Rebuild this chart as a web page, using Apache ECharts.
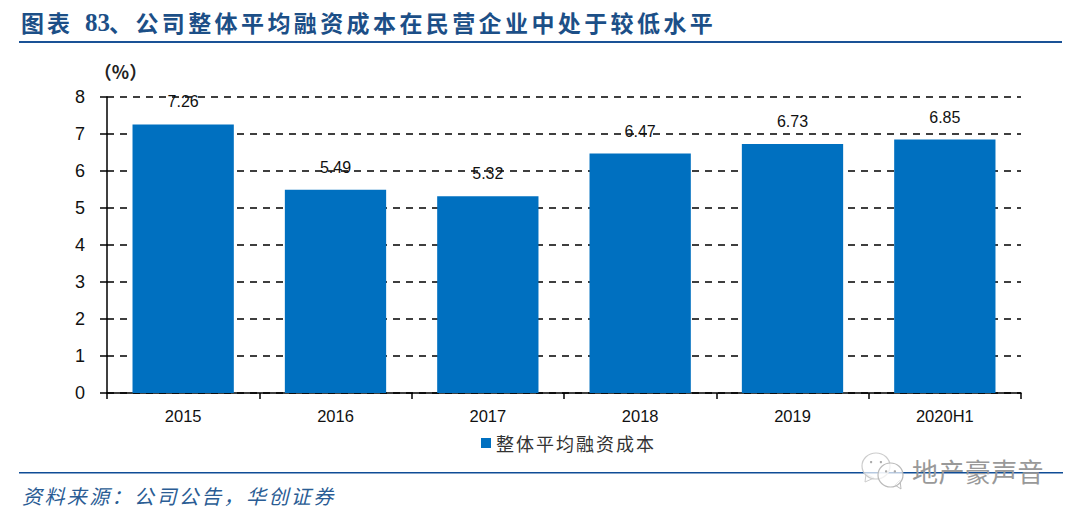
<!DOCTYPE html>
<html><head><meta charset="utf-8">
<style>html,body{margin:0;padding:0;background:#fff}#c{width:1080px;height:519px}</style>
<script src="https://cdn.jsdelivr.net/npm/echarts@6/dist/echarts.min.js"></script>
</head><body><div id="c"></div>
<script>
const categories = ['2015','2016','2017','2018','2019','2020H1'];
const values = [7.26,5.49,5.32,6.47,6.73,6.85];
const seriesName = '整体平均融资成本';
const unit = '（%）';
const titleHead = '图表';
const titleNum = '83';
const titleTail = '、公司整体平均融资成本在民营企业中处于较低水平';
const source = '资料来源：公司公告，华创证券';
const watermark = '地产豪声音';
const yTicks = {min:0,max:8,interval:1};

const CJK = '"Noto Sans CJK SC"';
const NAVY = '#1c4f87';
const chart = echarts.init(document.getElementById('c'),null,{renderer:'svg',width:1080,height:519});
const bubble = (cx,cy,rx,ry,tail,c)=>[
  {type:'polygon',shape:{points:tail},style:{fill:'rgba(255,255,255,0.7)',stroke:c,lineWidth:1}},
  {type:'ellipse',shape:{cx,cy,rx,ry},style:{fill:'rgba(255,255,255,0.7)',stroke:c,lineWidth:1.2}},
  {type:'circle',shape:{cx:cx-rx*0.35,cy:cy-ry*0.3,r:1.2},style:{fill:'#aaa'}},
  {type:'circle',shape:{cx:cx+rx*0.35,cy:cy-ry*0.3,r:1.2},style:{fill:'#aaa'}}
];
chart.setOption({
  animation:false,
  backgroundColor:'#fff',
  grid:{left:107,right:59,top:97,bottom:126},
  legend:{left:476,top:429,itemWidth:10,itemHeight:10,itemGap:6,icon:'rect',
    textStyle:{fontFamily:CJK,fontSize:18,color:'#333'}},
  xAxis:{type:'category',data:categories,
    axisLine:{lineStyle:{color:'#000',width:1.5}},
    axisTick:{show:true,alignWithLabel:false,length:6,lineStyle:{color:'#000',width:1.5}},
    axisLabel:{fontFamily:'"Liberation Sans"',fontSize:16.5,color:'#111',margin:14}},
  yAxis:{type:'value',...yTicks,name:unit,nameLocation:'end',nameGap:17,
    nameTextStyle:{fontFamily:CJK,fontWeight:'bold',fontSize:18,color:'#222',align:'center',padding:[0,0,0,27]},
    axisLine:{show:true,lineStyle:{color:'#000',width:1.5}},
    axisTick:{show:true,length:7,lineStyle:{color:'#000',width:1.5}},
    axisLabel:{fontFamily:'"Liberation Sans"',fontSize:18,color:'#111',margin:22,padding:[0,0,3,0]},
    splitLine:{show:true,lineStyle:{color:'#000',width:1.5,type:[7,6]}}},
  series:[{name:seriesName,type:'bar',data:values,barWidth:'66.5%',
    itemStyle:{color:'#0070c0'},
    label:{show:true,position:'top',distance:14.5,fontFamily:'"Liberation Sans"',fontSize:16,color:'#111',
      formatter:p=>p.value.toFixed(2)}}],
  graphic:{elements:[
    {type:'text',left:21,top:10,style:{text:titleHead,font:'bold 23px '+CJK,fill:NAVY}},
    {type:'text',left:85,top:10,style:{text:titleNum,font:'bold 25px "Liberation Serif"',fill:NAVY}},
    {type:'text',left:109,top:10,style:{text:titleTail,font:'bold 23px '+CJK,fill:NAVY}},
    {type:'rect',shape:{x:19,y:41,width:1043,height:2},style:{fill:'#1a5296'}},
    {type:'rect',shape:{x:19,y:472,width:1044,height:1.5},style:{fill:'#0f4c96'}},
    {type:'text',left:22,top:485,style:{text:source,font:'italic 20px '+CJK,fill:'#2a5c94'}},
    ...bubble(876,466,14,13,[[866,474],[865,482],[874,478]],'#ccc'),
    ...bubble(890.5,475,12.5,12,[[895,485],[901,489],[900,480]],'#bbb'),
    {type:'text',left:912,top:457,style:{text:watermark,font:'26px '+CJK,fill:'#999'}}
  ]}
});
const spacing = {[titleHead]:3,[titleTail]:3.4,[source]:2.4,[watermark]:0.4,[seriesName]:2};
document.querySelectorAll('#c text').forEach(t=>{
  const s = spacing[t.textContent];
  if(s) t.style.letterSpacing = s+'px';
});
</script></body></html>
